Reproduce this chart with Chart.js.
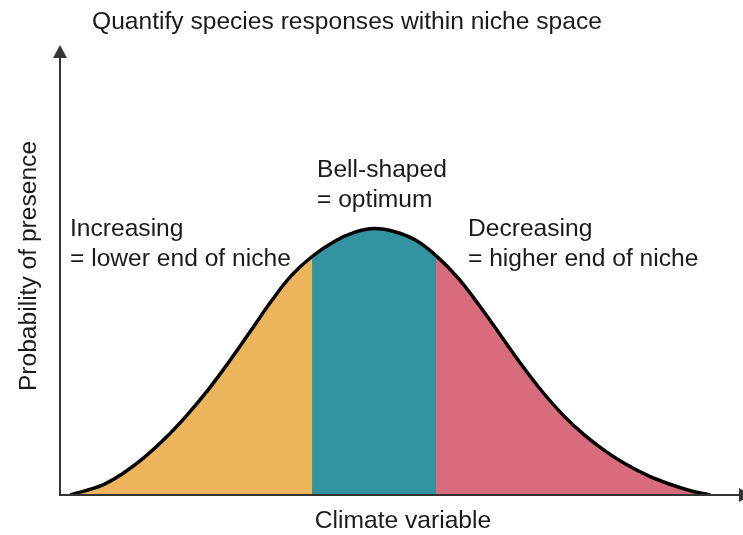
<!DOCTYPE html>
<html>
<head>
<meta charset="utf-8">
<script src="https://cdn.jsdelivr.net/npm/chart.js@4.4.1/dist/chart.umd.min.js"></script>
<style>
  html, body { margin: 0; padding: 0; background: #fff; }
</style>
</head>
<body>
<canvas id="chart" width="743" height="535"></canvas>
<script>
// climate variable (0-100) and probability of presence
const climate = [1.5, 6.2, 9.3, 12.3, 15.4, 18.5, 21.6, 24.7, 27.8, 30.9, 33.9, 36.9, 40.1, 43.2, 46.0, 49.0, 52.1, 55.05, 58.3, 61.4, 64.5, 67.6, 70.6, 73.7, 76.8, 79.9, 83.0, 86.1, 89.1, 92.2, 95.2];
const presence = [0, 0.022, 0.049, 0.083, 0.126, 0.176, 0.232, 0.295, 0.362, 0.430, 0.488, 0.530, 0.563, 0.584, 0.592, 0.585, 0.566, 0.532, 0.482, 0.421, 0.355, 0.289, 0.230, 0.177, 0.133, 0.097, 0.067, 0.043, 0.025, 0.010, 0];
// where the curve is split into the three parts (point index)
const lowerEdge = 11;
const upperEdge = 17;
const partColors = ['#ecb55b', '#3493a1', '#d86c7c'];

const titleText = 'Quantify species responses within niche space';
const xTitle = 'Climate variable';
const yTitle = 'Probability of presence';
const notes = [
  ['Increasing', '= lower end of niche'],
  ['Bell-shaped', '= optimum'],
  ['Decreasing', '= higher end of niche']
];

const points = climate.map((c, i) => ({ x: c, y: presence[i] }));

// 軸と注釈を描くプラグイン
const axesAndText = {
  id: 'axesAndText',
  afterDatasetsDraw(chart) {
    const { ctx, chartArea: a } = chart;
    ctx.save();
    ctx.strokeStyle = '#333';
    ctx.fillStyle = '#333';
    ctx.lineWidth = 2;
    // y axis
    ctx.beginPath();
    ctx.moveTo(a.left, a.bottom + 1);
    ctx.lineTo(a.left, a.top + 8);
    ctx.stroke();
    ctx.beginPath();
    ctx.moveTo(a.left, a.top);
    ctx.lineTo(a.left - 7, a.top + 13);
    ctx.lineTo(a.left + 7, a.top + 13);
    ctx.closePath();
    ctx.fill();
    // x axis
    ctx.beginPath();
    ctx.moveTo(a.left - 1, a.bottom);
    ctx.lineTo(a.right + 10, a.bottom);
    ctx.stroke();
    ctx.beginPath();
    ctx.moveTo(a.right + 9, a.bottom);
    ctx.lineTo(a.right - 4, a.bottom - 7);
    ctx.lineTo(a.right - 4, a.bottom + 7);
    ctx.closePath();
    ctx.fill();

    ctx.fillStyle = '#1a1a1a';
    ctx.font = '24.6px "Liberation Sans", Arial, sans-serif';
    ctx.textBaseline = 'alphabetic';
    ctx.textAlign = 'left';
    ctx.fillText(titleText, 92, 29);

    ctx.fillText(notes[0][0], 70, 236);
    ctx.fillText(notes[0][1], 70, 266);
    ctx.fillText(notes[1][0], 317, 177);
    ctx.fillText(notes[1][1], 317, 207);
    ctx.fillText(notes[2][0], 468, 236);
    ctx.fillText(notes[2][1], 468, 266);

    ctx.textAlign = 'center';
    ctx.fillText(xTitle, 403, 528);

    ctx.translate(36, 266);
    ctx.rotate(-Math.PI / 2);
    ctx.fillText(yTitle, 0, 0);
    ctx.restore();
  }
};

new Chart(document.getElementById('chart'), {
  type: 'line',
  data: {
    datasets: [{
      data: points,
      borderColor: '#000',
      borderWidth: 3.5,
      backgroundColor: partColors[1],
      fill: 'origin',
      tension: 0.4,
      pointRadius: 0,
      segment: {
        backgroundColor: c => c.p0DataIndex < lowerEdge ? partColors[0]
          : c.p0DataIndex < upperEdge ? partColors[1] : partColors[2]
      }
    }]
  },
  options: {
    responsive: false,
    animation: false,
    layout: { padding: { left: 60, right: 0, top: 45, bottom: 40 } },
    scales: {
      x: { type: 'linear', min: 0, max: 100, display: false },
      y: { min: 0, max: 1, display: false }
    },
    plugins: {
      legend: { display: false },
      tooltip: { enabled: false }
    }
  },
  plugins: [axesAndText]
});
</script>
</body>
</html>
